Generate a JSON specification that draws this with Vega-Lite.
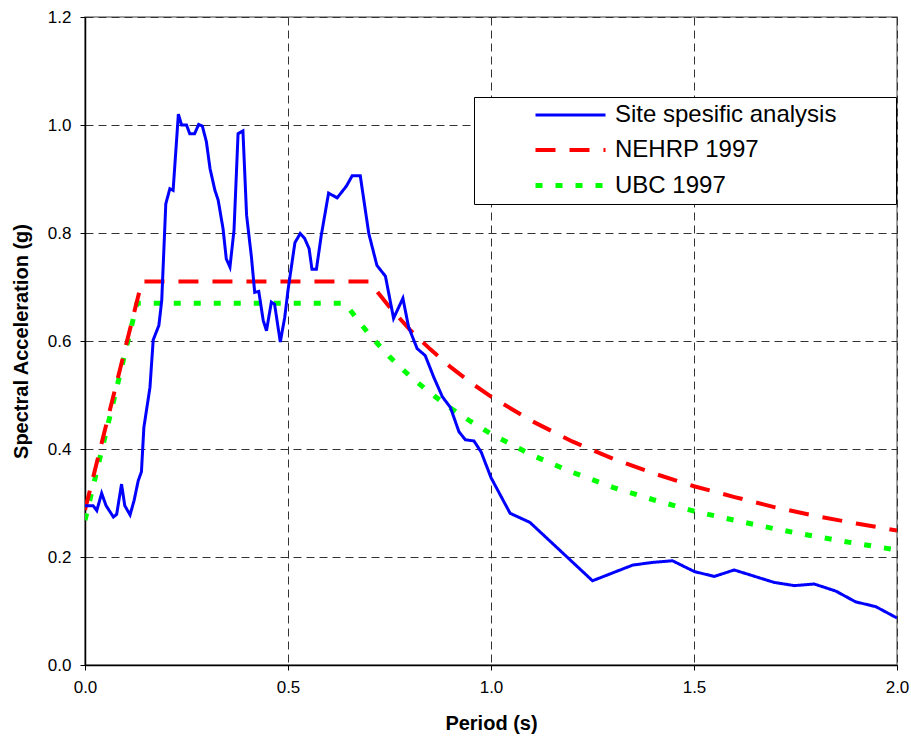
{
  "$schema": "https://vega.github.io/schema/vega-lite/v6.json",
  "width": 812,
  "height": 648,
  "autosize": {"type": "none"},
  "padding": {"left": 85, "top": 17, "right": 14, "bottom": 73},
  "background": "white",
  "config": {
    "view": {"stroke": "#808080", "strokeWidth": 1.5},
    "font": "Liberation Sans",
    "axis": {
      "domainColor": "black",
      "domainWidth": 1.5,
      "tickColor": "black",
      "tickSize": 5,
      "labelFont": "Liberation Sans",
      "labelFontSize": 17,
      "labelColor": "black",
      "labelPadding": 8,
      "labelFlush": false,
      "labelOverlap": false,
      "titleFont": "Liberation Sans",
      "titleFontSize": 20,
      "titleFontWeight": "bold",
      "titleColor": "black",
      "grid": true,
      "gridDash": [8, 5],
      "gridColor": "#333333",
      "gridWidth": 1,
      "gridOpacity": 1
    }
  },
  "data": {
    "values": [
      {"s": "UBC 1997", "T": 0.0, "Sa": 0.268},
      {"s": "UBC 1997", "T": 0.128, "Sa": 0.67},
      {"s": "UBC 1997", "T": 0.64, "Sa": 0.67},
      {"s": "UBC 1997", "T": 0.7, "Sa": 0.612},
      {"s": "UBC 1997", "T": 0.75, "Sa": 0.571},
      {"s": "UBC 1997", "T": 0.8, "Sa": 0.535},
      {"s": "UBC 1997", "T": 0.85, "Sa": 0.504},
      {"s": "UBC 1997", "T": 0.9, "Sa": 0.476},
      {"s": "UBC 1997", "T": 0.95, "Sa": 0.451},
      {"s": "UBC 1997", "T": 1.0, "Sa": 0.428},
      {"s": "UBC 1997", "T": 1.1, "Sa": 0.389},
      {"s": "UBC 1997", "T": 1.2, "Sa": 0.357},
      {"s": "UBC 1997", "T": 1.3, "Sa": 0.329},
      {"s": "UBC 1997", "T": 1.4, "Sa": 0.306},
      {"s": "UBC 1997", "T": 1.5, "Sa": 0.285},
      {"s": "UBC 1997", "T": 1.6, "Sa": 0.268},
      {"s": "UBC 1997", "T": 1.7, "Sa": 0.252},
      {"s": "UBC 1997", "T": 1.8, "Sa": 0.238},
      {"s": "UBC 1997", "T": 1.9, "Sa": 0.225},
      {"s": "UBC 1997", "T": 2.0, "Sa": 0.213},
      {"s": "NEHRP 1997", "T": 0.0, "Sa": 0.287},
      {"s": "NEHRP 1997", "T": 0.14, "Sa": 0.71},
      {"s": "NEHRP 1997", "T": 0.7, "Sa": 0.71},
      {"s": "NEHRP 1997", "T": 0.75, "Sa": 0.663},
      {"s": "NEHRP 1997", "T": 0.8, "Sa": 0.621},
      {"s": "NEHRP 1997", "T": 0.85, "Sa": 0.585},
      {"s": "NEHRP 1997", "T": 0.9, "Sa": 0.552},
      {"s": "NEHRP 1997", "T": 0.95, "Sa": 0.523},
      {"s": "NEHRP 1997", "T": 1.0, "Sa": 0.497},
      {"s": "NEHRP 1997", "T": 1.1, "Sa": 0.452},
      {"s": "NEHRP 1997", "T": 1.2, "Sa": 0.414},
      {"s": "NEHRP 1997", "T": 1.3, "Sa": 0.382},
      {"s": "NEHRP 1997", "T": 1.4, "Sa": 0.355},
      {"s": "NEHRP 1997", "T": 1.5, "Sa": 0.331},
      {"s": "NEHRP 1997", "T": 1.6, "Sa": 0.311},
      {"s": "NEHRP 1997", "T": 1.7, "Sa": 0.292},
      {"s": "NEHRP 1997", "T": 1.8, "Sa": 0.276},
      {"s": "NEHRP 1997", "T": 1.9, "Sa": 0.262},
      {"s": "NEHRP 1997", "T": 2.0, "Sa": 0.249},
      {"s": "Site spesific analysis", "T": 0.0, "Sa": 0.295},
      {"s": "Site spesific analysis", "T": 0.02, "Sa": 0.295},
      {"s": "Site spesific analysis", "T": 0.029, "Sa": 0.286},
      {"s": "Site spesific analysis", "T": 0.041, "Sa": 0.318},
      {"s": "Site spesific analysis", "T": 0.052, "Sa": 0.295},
      {"s": "Site spesific analysis", "T": 0.07, "Sa": 0.274},
      {"s": "Site spesific analysis", "T": 0.078, "Sa": 0.279},
      {"s": "Site spesific analysis", "T": 0.09, "Sa": 0.335},
      {"s": "Site spesific analysis", "T": 0.098, "Sa": 0.295},
      {"s": "Site spesific analysis", "T": 0.111, "Sa": 0.278},
      {"s": "Site spesific analysis", "T": 0.121, "Sa": 0.305},
      {"s": "Site spesific analysis", "T": 0.131, "Sa": 0.341},
      {"s": "Site spesific analysis", "T": 0.139, "Sa": 0.358},
      {"s": "Site spesific analysis", "T": 0.145, "Sa": 0.44},
      {"s": "Site spesific analysis", "T": 0.16, "Sa": 0.514},
      {"s": "Site spesific analysis", "T": 0.168, "Sa": 0.602},
      {"s": "Site spesific analysis", "T": 0.182, "Sa": 0.629},
      {"s": "Site spesific analysis", "T": 0.189, "Sa": 0.675},
      {"s": "Site spesific analysis", "T": 0.199, "Sa": 0.854},
      {"s": "Site spesific analysis", "T": 0.209, "Sa": 0.882},
      {"s": "Site spesific analysis", "T": 0.217, "Sa": 0.879},
      {"s": "Site spesific analysis", "T": 0.23, "Sa": 1.02},
      {"s": "Site spesific analysis", "T": 0.238, "Sa": 1.0},
      {"s": "Site spesific analysis", "T": 0.25, "Sa": 1.0},
      {"s": "Site spesific analysis", "T": 0.258, "Sa": 0.984},
      {"s": "Site spesific analysis", "T": 0.27, "Sa": 0.984},
      {"s": "Site spesific analysis", "T": 0.28, "Sa": 1.001},
      {"s": "Site spesific analysis", "T": 0.289, "Sa": 0.998},
      {"s": "Site spesific analysis", "T": 0.299, "Sa": 0.969},
      {"s": "Site spesific analysis", "T": 0.308, "Sa": 0.919},
      {"s": "Site spesific analysis", "T": 0.32, "Sa": 0.879},
      {"s": "Site spesific analysis", "T": 0.328, "Sa": 0.861},
      {"s": "Site spesific analysis", "T": 0.34, "Sa": 0.808},
      {"s": "Site spesific analysis", "T": 0.348, "Sa": 0.752},
      {"s": "Site spesific analysis", "T": 0.357, "Sa": 0.737},
      {"s": "Site spesific analysis", "T": 0.367, "Sa": 0.805},
      {"s": "Site spesific analysis", "T": 0.377, "Sa": 0.984},
      {"s": "Site spesific analysis", "T": 0.389, "Sa": 0.989},
      {"s": "Site spesific analysis", "T": 0.398, "Sa": 0.833},
      {"s": "Site spesific analysis", "T": 0.41, "Sa": 0.755},
      {"s": "Site spesific analysis", "T": 0.418, "Sa": 0.69},
      {"s": "Site spesific analysis", "T": 0.428, "Sa": 0.692},
      {"s": "Site spesific analysis", "T": 0.439, "Sa": 0.638},
      {"s": "Site spesific analysis", "T": 0.447, "Sa": 0.619},
      {"s": "Site spesific analysis", "T": 0.459, "Sa": 0.672},
      {"s": "Site spesific analysis", "T": 0.467, "Sa": 0.668},
      {"s": "Site spesific analysis", "T": 0.481, "Sa": 0.598},
      {"s": "Site spesific analysis", "T": 0.492, "Sa": 0.644},
      {"s": "Site spesific analysis", "T": 0.5, "Sa": 0.694},
      {"s": "Site spesific analysis", "T": 0.517, "Sa": 0.782},
      {"s": "Site spesific analysis", "T": 0.53, "Sa": 0.799},
      {"s": "Site spesific analysis", "T": 0.541, "Sa": 0.79},
      {"s": "Site spesific analysis", "T": 0.552, "Sa": 0.771},
      {"s": "Site spesific analysis", "T": 0.559, "Sa": 0.733},
      {"s": "Site spesific analysis", "T": 0.57, "Sa": 0.733},
      {"s": "Site spesific analysis", "T": 0.582, "Sa": 0.796},
      {"s": "Site spesific analysis", "T": 0.6, "Sa": 0.874},
      {"s": "Site spesific analysis", "T": 0.621, "Sa": 0.865},
      {"s": "Site spesific analysis", "T": 0.644, "Sa": 0.887},
      {"s": "Site spesific analysis", "T": 0.658, "Sa": 0.906},
      {"s": "Site spesific analysis", "T": 0.678, "Sa": 0.906},
      {"s": "Site spesific analysis", "T": 0.699, "Sa": 0.799},
      {"s": "Site spesific analysis", "T": 0.719, "Sa": 0.74},
      {"s": "Site spesific analysis", "T": 0.74, "Sa": 0.72},
      {"s": "Site spesific analysis", "T": 0.76, "Sa": 0.642},
      {"s": "Site spesific analysis", "T": 0.783, "Sa": 0.679},
      {"s": "Site spesific analysis", "T": 0.797, "Sa": 0.626},
      {"s": "Site spesific analysis", "T": 0.818, "Sa": 0.586},
      {"s": "Site spesific analysis", "T": 0.838, "Sa": 0.573},
      {"s": "Site spesific analysis", "T": 0.859, "Sa": 0.533},
      {"s": "Site spesific analysis", "T": 0.88, "Sa": 0.497},
      {"s": "Site spesific analysis", "T": 0.9, "Sa": 0.477},
      {"s": "Site spesific analysis", "T": 0.921, "Sa": 0.432},
      {"s": "Site spesific analysis", "T": 0.937, "Sa": 0.417},
      {"s": "Site spesific analysis", "T": 0.958, "Sa": 0.415},
      {"s": "Site spesific analysis", "T": 0.976, "Sa": 0.394},
      {"s": "Site spesific analysis", "T": 1.0, "Sa": 0.347},
      {"s": "Site spesific analysis", "T": 1.047, "Sa": 0.281},
      {"s": "Site spesific analysis", "T": 1.096, "Sa": 0.264},
      {"s": "Site spesific analysis", "T": 1.193, "Sa": 0.196},
      {"s": "Site spesific analysis", "T": 1.25, "Sa": 0.156},
      {"s": "Site spesific analysis", "T": 1.349, "Sa": 0.185},
      {"s": "Site spesific analysis", "T": 1.398, "Sa": 0.19},
      {"s": "Site spesific analysis", "T": 1.447, "Sa": 0.193},
      {"s": "Site spesific analysis", "T": 1.501, "Sa": 0.173},
      {"s": "Site spesific analysis", "T": 1.55, "Sa": 0.164},
      {"s": "Site spesific analysis", "T": 1.599, "Sa": 0.176},
      {"s": "Site spesific analysis", "T": 1.697, "Sa": 0.153},
      {"s": "Site spesific analysis", "T": 1.747, "Sa": 0.147},
      {"s": "Site spesific analysis", "T": 1.796, "Sa": 0.15},
      {"s": "Site spesific analysis", "T": 1.849, "Sa": 0.137},
      {"s": "Site spesific analysis", "T": 1.898, "Sa": 0.117},
      {"s": "Site spesific analysis", "T": 1.948, "Sa": 0.108},
      {"s": "Site spesific analysis", "T": 2.0, "Sa": 0.087}
    ]
  },
  "mark": {"type": "line", "clip": true},
  "encoding": {
    "x": {
      "field": "T",
      "type": "quantitative",
      "scale": {"domain": [0, 2], "nice": false, "zero": false},
      "axis": {
        "values": [0, 0.5, 1, 1.5, 2],
        "format": ".1f",
        "title": "Period (s)",
        "titleX": 406,
        "titleY": 58,
        "titleBaseline": "middle",
        "labelPadding": 9
      }
    },
    "y": {
      "field": "Sa",
      "type": "quantitative",
      "scale": {"domain": [0, 1.2], "nice": false},
      "axis": {
        "values": [0, 0.2, 0.4, 0.6, 0.8, 1.0, 1.2],
        "format": ".1f",
        "title": "Spectral Acceleration (g)",
        "titleX": -64,
        "titleY": 324,
        "titleAngle": 270,
        "titleBaseline": "middle",
        "titleAlign": "center",
        "labelPadding": 9
      }
    },
    "color": {
      "field": "s",
      "type": "nominal",
      "scale": {
        "domain": ["Site spesific analysis", "NEHRP 1997", "UBC 1997"],
        "range": ["#0000FF", "#FF0000", "#00FF00"]
      },
      "legend": {
        "orient": "none",
        "legendX": 389,
        "legendY": 80,
        "title": null,
        "fillColor": "white",
        "strokeColor": "black",
        "padding": 6,
        "symbolType": "M-3.5,0H3.5",
        "symbolSize": 400,
        "symbolOffset": 78,
        "labelOffset": 32,
        "labelFont": "Liberation Sans",
        "labelFontSize": 24,
        "labelColor": "black",
        "labelLimit": 600,
        "rowPadding": 11,
        "labelExpr": "datum.label + '\u00a0\u00a0\u00a0\u00a0\u00a0\u00a0\u00a0\u00a0\u200b'"
      }
    },
    "strokeDash": {
      "field": "s",
      "type": "nominal",
      "scale": {
        "domain": ["Site spesific analysis", "NEHRP 1997", "UBC 1997"],
        "range": [[1, 0], [20, 14], [7, 13]]
      }
    },
    "strokeWidth": {
      "field": "s",
      "type": "nominal",
      "scale": {
        "domain": ["Site spesific analysis", "NEHRP 1997", "UBC 1997"],
        "range": [3, 5, 4]
      }
    }
  }
}
